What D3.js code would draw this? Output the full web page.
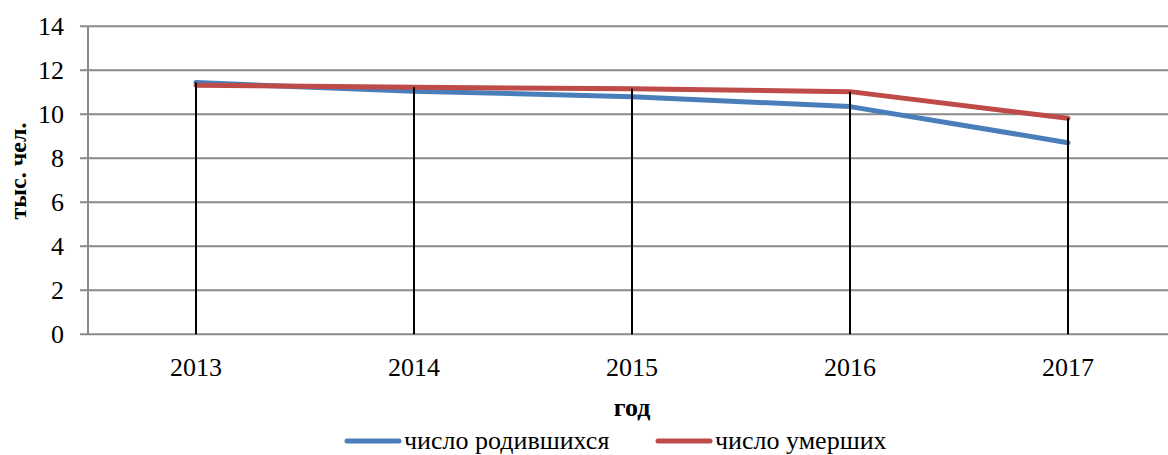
<!DOCTYPE html>
<html>
<head>
<meta charset="utf-8">
<script src="https://cdn.jsdelivr.net/npm/d3@7"></script>
<style>
  html, body { margin: 0; padding: 0; background: #fff; }
  svg { display: block; }
</style>
</head>
<body>
<div id="chart"></div>
<script>
const years  = ['2013', '2014', '2015', '2016', '2017'];
const born   = [11.44, 11.05, 10.8, 10.35, 8.71];
const died   = [11.32, 11.23, 11.16, 11.03, 9.82];
const yTicks = [0, 2, 4, 6, 8, 10, 12, 14];

const SERIES = [
  { label: 'число родившихся', values: born, color: '#4A7EBB' },
  { label: 'число умерших',    values: died, color: '#BE4B48' },
];

const W = 1168, H = 455;
const GRID = '#8a8a8a';
const FONT = "'Liberation Serif', Tinos, 'DejaVu Serif', serif";

const svg = d3.select('#chart').append('svg').attr('width', W).attr('height', H)
  .attr('font-family', FONT);

const x = d3.scaleBand().domain(years).range([87, 1177]);
const y = d3.scaleLinear().domain([0, 14]).range([334.3, 26.3]);
const cx = d => x(d) + x.bandwidth() / 2;

// horizontal gridlines + tick marks
svg.append('g')
  .selectAll('line')
  .data(yTicks)
  .join('line')
  .attr('x1', 80).attr('x2', W)
  .attr('y1', d => y(d)).attr('y2', d => y(d))
  .attr('stroke', GRID).attr('stroke-width', 2);

// left axis line
svg.append('line')
  .attr('x1', 88).attr('x2', 88)
  .attr('y1', y(14)).attr('y2', y(0))
  .attr('stroke', GRID).attr('stroke-width', 2);

// y tick labels
svg.append('g')
  .selectAll('text')
  .data(yTicks)
  .join('text')
  .attr('x', 64).attr('y', d => y(d)).attr('dy', '0.35em')
  .attr('text-anchor', 'end')
  .attr('font-size', '26px')
  .text(d => d);

// x tick labels
svg.append('g')
  .selectAll('text')
  .data(years)
  .join('text')
  .attr('x', cx).attr('y', 376)
  .attr('text-anchor', 'middle')
  .attr('font-size', '26px')
  .text(d => d);

// series lines
const line = d3.line().x((d, i) => cx(years[i])).y(d => y(d));
svg.append('g')
  .selectAll('path')
  .data(SERIES)
  .join('path')
  .attr('d', d => line(d.values))
  .attr('fill', 'none')
  .attr('stroke', d => d.color)
  .attr('stroke-width', 5)
  .attr('stroke-linecap', 'round')
  .attr('stroke-linejoin', 'round');

// drop lines from the higher value down to the axis
svg.append('g')
  .selectAll('line')
  .data(years)
  .join('line')
  .attr('x1', cx).attr('x2', cx)
  .attr('y1', (d, i) => y(Math.max(born[i], died[i])))
  .attr('y2', y(0))
  .attr('stroke', '#000').attr('stroke-width', 2);

// axis titles
svg.append('text')
  .attr('x', 632).attr('y', 416)
  .attr('text-anchor', 'middle')
  .attr('font-size', '26px').attr('font-weight', 'bold')
  .text('год');

svg.append('text')
  .attr('transform', 'translate(26,171) rotate(-90)')
  .attr('text-anchor', 'middle')
  .attr('font-size', '24px').attr('font-weight', 'bold')
  .text('тыс. чел.');

// legend
const legendPos = [345, 656];
const legend = svg.append('g')
  .selectAll('g')
  .data(SERIES)
  .join('g')
  .attr('transform', (d, i) => `translate(${legendPos[i]},441)`);

legend.append('line')
  .attr('x1', 2).attr('x2', 54)
  .attr('stroke', d => d.color).attr('stroke-width', 5)
  .attr('stroke-linecap', 'round');

legend.append('text')
  .attr('x', 59).attr('y', 8)
  .attr('font-size', '26px')
  .text(d => d.label);
</script>
</body>
</html>
